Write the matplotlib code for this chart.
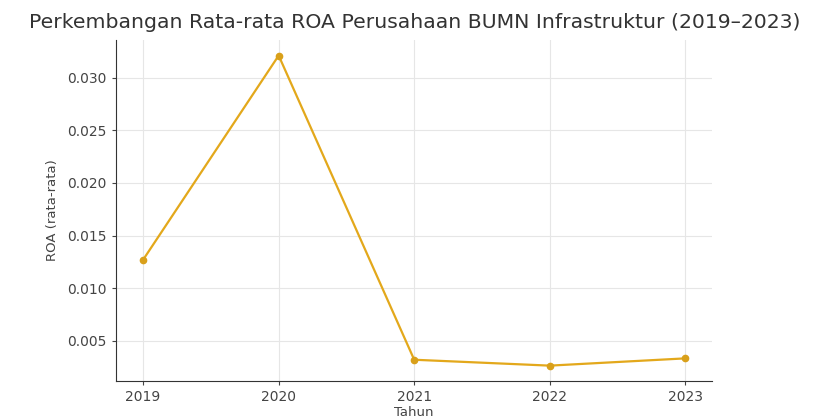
import matplotlib
matplotlib.use("Agg")
import matplotlib.pyplot as plt

tahun = [2019, 2020, 2021, 2022, 2023]
roa_rata = [0.0127, 0.0321, 0.0032, 0.00264, 0.00333]
yticks = [0.005, 0.010, 0.015, 0.020, 0.025, 0.030]

fig = plt.figure(figsize=(8.17, 4.17), dpi=100)
ax = fig.add_axes([0.142, 0.086, 0.73, 0.818])

ax.plot(tahun, roa_rata, color='#e3a81b', lw=1.6, marker='o', markersize=4.5,
        markerfacecolor='#d9a01a', markeredgecolor='#d9a01a')

ax.set_xticks(tahun)
ax.set_yticks(yticks)
ax.tick_params(labelsize=10, colors='#444444', length=3)
ax.grid(color='#e6e6e6', linewidth=0.8)
ax.set_axisbelow(True)
for s in ['top', 'right']:
    ax.spines[s].set_visible(False)
for s in ['left', 'bottom']:
    ax.spines[s].set_color('#333333')

ax.set_title("Perkembangan Rata-rata ROA Perusahaan BUMN Infrastruktur (2019–2023)",
             fontsize=14.7, color='#333333', pad=9)
ax.set_xlabel("Tahun", fontsize=9.5, color='#444444', labelpad=1)
ax.set_ylabel("ROA (rata-rata)", fontsize=9.5, color='#444444', labelpad=6)

fig.savefig("out.png", dpi=100)
